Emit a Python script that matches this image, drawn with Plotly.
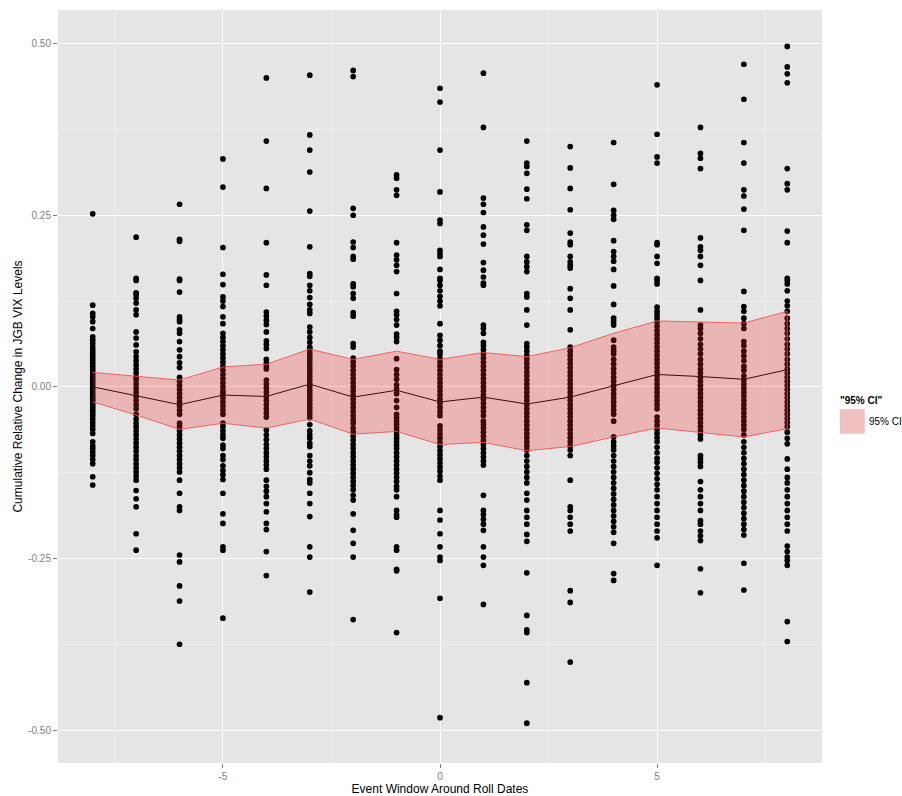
import plotly.graph_objects as go

window = [-8, -7, -6, -5, -4, -3, -2, -1, 0, 1, 2, 3, 4, 5, 6, 7, 8]

mean_change = [0.0, -0.013, -0.026, -0.012, -0.014, 0.004, -0.015, -0.005, -0.022,
               -0.015, -0.025, -0.015, 0.001, 0.018, 0.015, 0.011, 0.025]
ci_upper = [0.021, 0.015, 0.010, 0.029, 0.033, 0.055, 0.040, 0.052, 0.040,
            0.050, 0.044, 0.057, 0.078, 0.096, 0.095, 0.093, 0.110]
ci_lower = [-0.022, -0.041, -0.062, -0.053, -0.060, -0.047, -0.069, -0.065, -0.084,
            -0.081, -0.093, -0.087, -0.073, -0.060, -0.066, -0.073, -0.061]

obs_m8 = [0.252, 0.119, 0.107, 0.102, 0.095, 0.085, 0.073, 0.068, 0.063, 0.058, 0.054, 0.05, 0.046,
          0.042, 0.038, 0.034, 0.03, 0.026, 0.022, 0.018, 0.014, 0.01, 0.006, 0.002, -0.002, -0.006,
          -0.01, -0.014, -0.018, -0.022, -0.026, -0.03, -0.034, -0.038, -0.042, -0.047, -0.052, -0.057,
          -0.062, -0.068, -0.08, -0.086, -0.09, -0.095, -0.1, -0.106, -0.112, -0.131, -0.143]
obs_m7 = [0.218, 0.158, 0.155, 0.137, 0.134, 0.129, 0.122, 0.112, 0.105, 0.08, 0.071, 0.061, 0.051,
          0.044, 0.038, 0.032, 0.026, 0.02, 0.014, 0.01, 0.004, -0.002, -0.008, -0.014, -0.02, -0.026,
          -0.032, -0.04, -0.047, -0.053, -0.058, -0.064, -0.07, -0.076, -0.082, -0.088, -0.094, -0.1,
          -0.106, -0.112, -0.118, -0.124, -0.13, -0.136, -0.151, -0.163, -0.175, -0.214, -0.238]
obs_m6 = [0.266, 0.215, 0.212, 0.157, 0.155, 0.138, 0.102, 0.098, 0.095, 0.083, 0.078, 0.066, 0.054,
          0.044, 0.035, 0.028, 0.014, 0.008, 0.002, -0.004, -0.01, -0.016, -0.022, -0.028, -0.034,
          -0.04, -0.053, -0.058, -0.064, -0.07, -0.076, -0.082, -0.088, -0.094, -0.1, -0.106, -0.112,
          -0.118, -0.124, -0.136, -0.155, -0.175, -0.18, -0.245, -0.255, -0.29, -0.312, -0.375]
obs_m5 = [0.332, 0.291, 0.203, 0.164, 0.149, 0.131, 0.125, 0.117, 0.102, 0.092, 0.078, 0.072, 0.066,
          0.06, 0.054, 0.048, 0.042, 0.036, 0.03, 0.024, 0.018, 0.012, 0.006, 0.0, -0.006, -0.01,
          -0.016, -0.022, -0.028, -0.034, -0.04, -0.053, -0.058, -0.064, -0.07, -0.075, -0.085, -0.09,
          -0.1, -0.106, -0.115, -0.122, -0.128, -0.135, -0.155, -0.185, -0.199, -0.233, -0.238, -0.337]
obs_m4 = [0.45, 0.358, 0.289, 0.21, 0.163, 0.148, 0.109, 0.103, 0.097, 0.091, 0.08, 0.067, 0.062,
          0.056, 0.04, 0.035, 0.03, 0.026, 0.01, 0.004, -0.002, -0.008, -0.014, -0.02, -0.026, -0.032,
          -0.038, -0.044, -0.063, -0.07, -0.077, -0.084, -0.09, -0.096, -0.102, -0.108, -0.114, -0.12,
          -0.136, -0.145, -0.152, -0.16, -0.17, -0.182, -0.199, -0.208, -0.24, -0.275]
obs_m3 = [0.454, 0.367, 0.345, 0.313, 0.256, 0.204, 0.165, 0.161, 0.148, 0.14, 0.13, 0.12, 0.112,
          0.107, 0.087, 0.08, 0.072, 0.065, 0.058, 0.055, 0.05, 0.045, 0.04, 0.035, 0.03, 0.025, 0.02,
          0.015, 0.01, 0.005, 0.0, -0.005, -0.01, -0.015, -0.02, -0.025, -0.03, -0.035, -0.04, -0.045,
          -0.055, -0.064, -0.07, -0.075, -0.082, -0.087, -0.1, -0.108, -0.115, -0.125, -0.135, -0.14,
          -0.155, -0.17, -0.189, -0.233, -0.248, -0.299]
obs_m2 = [0.461, 0.452, 0.26, 0.25, 0.211, 0.203, 0.19, 0.186, 0.15, 0.146, 0.136, 0.129, 0.108,
          0.103, 0.063, 0.058, 0.042, 0.036, 0.03, 0.024, 0.018, 0.012, 0.006, 0.0, -0.006, -0.012,
          -0.018, -0.024, -0.03, -0.036, -0.042, -0.048, -0.053, -0.06, -0.066, -0.072, -0.078, -0.084,
          -0.09, -0.096, -0.102, -0.108, -0.114, -0.12, -0.126, -0.132, -0.138, -0.144, -0.15, -0.158,
          -0.165, -0.185, -0.209, -0.228, -0.248, -0.339]
obs_m1 = [0.309, 0.304, 0.287, 0.279, 0.21, 0.192, 0.185, 0.177, 0.168, 0.136, 0.11, 0.105, 0.098,
          0.09, 0.077, 0.072, 0.066, 0.041, 0.025, 0.018, 0.011, 0.003, -0.003, -0.01, -0.02, -0.03,
          -0.04, -0.045, -0.05, -0.055, -0.06, -0.065, -0.07, -0.075, -0.08, -0.085, -0.09, -0.096,
          -0.102, -0.108, -0.114, -0.12, -0.126, -0.132, -0.138, -0.145, -0.15, -0.16, -0.18, -0.186,
          -0.19, -0.233, -0.238, -0.266, -0.268, -0.358]
obs_0 = [0.435, 0.415, 0.345, 0.284, 0.243, 0.238, 0.199, 0.194, 0.19, 0.171, 0.158, 0.155, 0.148,
         0.14, 0.132, 0.125, 0.118, 0.092, 0.075, 0.068, 0.06, 0.052, 0.048, 0.042, 0.036, 0.03, 0.024,
         0.018, 0.012, 0.006, 0.0, -0.006, -0.012, -0.018, -0.024, -0.03, -0.036, -0.042, -0.057,
         -0.063, -0.069, -0.075, -0.081, -0.087, -0.093, -0.099, -0.105, -0.111, -0.117, -0.123,
         -0.13, -0.136, -0.18, -0.194, -0.214, -0.233, -0.248, -0.253, -0.308, -0.482]
obs_p1 = [0.457, 0.378, 0.275, 0.266, 0.254, 0.233, 0.221, 0.208, 0.181, 0.17, 0.16, 0.151, 0.148,
          0.09, 0.085, 0.078, 0.065, 0.06, 0.054, 0.048, 0.042, 0.036, 0.03, 0.024, 0.018, 0.012,
          0.006, 0.0, -0.006, -0.012, -0.018, -0.024, -0.03, -0.036, -0.042, -0.05, -0.055, -0.06,
          -0.066, -0.072, -0.078, -0.084, -0.09, -0.096, -0.102, -0.108, -0.114, -0.158, -0.18,
          -0.186, -0.193, -0.2, -0.209, -0.233, -0.248, -0.26, -0.317]
obs_p2 = [0.358, 0.326, 0.321, 0.311, 0.288, 0.274, 0.236, 0.228, 0.19, 0.182, 0.175, 0.168, 0.136,
          0.131, 0.112, 0.09, 0.063, 0.058, 0.052, 0.046, 0.04, 0.034, 0.028, 0.022, 0.016, 0.01,
          0.004, -0.002, -0.008, -0.014, -0.02, -0.026, -0.032, -0.038, -0.044, -0.05, -0.056, -0.062,
          -0.068, -0.074, -0.08, -0.086, -0.092, -0.1, -0.108, -0.116, -0.124, -0.132, -0.14, -0.155,
          -0.165, -0.18, -0.19, -0.2, -0.215, -0.225, -0.271, -0.333, -0.354, -0.358, -0.431, -0.49]
obs_p3 = [0.35, 0.319, 0.289, 0.258, 0.224, 0.211, 0.207, 0.19, 0.182, 0.177, 0.173, 0.143, 0.129,
          0.112, 0.083, 0.058, 0.052, 0.046, 0.04, 0.034, 0.028, 0.022, 0.016, 0.01, 0.004, -0.002,
          -0.008, -0.014, -0.02, -0.026, -0.032, -0.038, -0.044, -0.05, -0.056, -0.062, -0.068,
          -0.074, -0.08, -0.086, -0.092, -0.1, -0.136, -0.175, -0.18, -0.19, -0.2, -0.21, -0.297,
          -0.314, -0.401]
obs_p4 = [0.356, 0.295, 0.257, 0.25, 0.244, 0.213, 0.197, 0.19, 0.183, 0.171, 0.147, 0.12, 0.1,
          0.095, 0.09, 0.068, 0.058, 0.053, 0.048, 0.04, 0.033, 0.026, 0.02, 0.014, 0.008, 0.002,
          -0.004, -0.01, -0.016, -0.022, -0.028, -0.034, -0.04, -0.05, -0.073, -0.08, -0.086, -0.092,
          -0.1, -0.108, -0.116, -0.124, -0.132, -0.14, -0.148, -0.156, -0.164, -0.172, -0.18, -0.188,
          -0.196, -0.204, -0.212, -0.228, -0.272, -0.282]
obs_p5 = [0.44, 0.368, 0.335, 0.326, 0.21, 0.207, 0.19, 0.18, 0.158, 0.155, 0.15, 0.116, 0.11,
          0.105, 0.1, 0.094, 0.088, 0.082, 0.076, 0.07, 0.064, 0.058, 0.052, 0.046, 0.04, 0.034, 0.028,
          0.022, 0.016, 0.01, 0.004, -0.002, -0.008, -0.014, -0.02, -0.026, -0.032, -0.044, -0.05,
          -0.056, -0.062, -0.068, -0.074, -0.08, -0.088, -0.096, -0.104, -0.11, -0.118, -0.126,
          -0.134, -0.142, -0.15, -0.16, -0.17, -0.18, -0.19, -0.2, -0.21, -0.22, -0.26]
obs_p6 = [0.378, 0.34, 0.333, 0.318, 0.217, 0.204, 0.199, 0.19, 0.177, 0.155, 0.112, 0.09, 0.085,
          0.078, 0.07, 0.062, 0.055, 0.048, 0.04, 0.033, 0.026, 0.02, 0.014, 0.008, 0.002, -0.004,
          -0.01, -0.016, -0.022, -0.028, -0.034, -0.04, -0.046, -0.052, -0.058, -0.064, -0.07, -0.076,
          -0.1, -0.105, -0.11, -0.116, -0.138, -0.15, -0.16, -0.17, -0.18, -0.195, -0.2, -0.21,
          -0.217, -0.224, -0.265, -0.3]
obs_p7 = [0.47, 0.419, 0.356, 0.326, 0.287, 0.278, 0.259, 0.228, 0.139, 0.117, 0.11, 0.1, 0.092,
          0.085, 0.066, 0.06, 0.052, 0.045, 0.038, 0.03, 0.024, 0.016, 0.01, 0.004, -0.002, -0.008,
          -0.014, -0.02, -0.026, -0.032, -0.038, -0.044, -0.05, -0.056, -0.062, -0.07, -0.08, -0.088,
          -0.096, -0.104, -0.112, -0.12, -0.128, -0.136, -0.144, -0.152, -0.16, -0.168, -0.176,
          -0.184, -0.192, -0.2, -0.208, -0.216, -0.257, -0.296]
obs_p8 = [0.496, 0.466, 0.456, 0.443, 0.318, 0.296, 0.287, 0.227, 0.21, 0.158, 0.155, 0.15, 0.14,
          0.125, 0.118, 0.11, 0.1, 0.092, 0.085, 0.078, 0.07, 0.062, 0.055, 0.048, 0.04, 0.033, 0.026,
          0.02, 0.014, 0.008, 0.002, -0.004, -0.01, -0.016, -0.022, -0.028, -0.034, -0.04, -0.046,
          -0.052, -0.058, -0.066, -0.075, -0.083, -0.105, -0.12, -0.132, -0.14, -0.15, -0.16, -0.17,
          -0.18, -0.19, -0.2, -0.21, -0.232, -0.24, -0.248, -0.253, -0.26, -0.342, -0.371]

observations = [obs_m8, obs_m7, obs_m6, obs_m5, obs_m4, obs_m3, obs_m2, obs_m1, obs_0,
                obs_p1, obs_p2, obs_p3, obs_p4, obs_p5, obs_p6, obs_p7, obs_p8]

x_ticks = [-5, 0, 5]
y_ticks = [-0.5, -0.25, 0.0, 0.25, 0.5]
legend_title = '"95% CI"'
legend_label = "95% CI"

RIBBON_FILL = "rgba(248,40,40,0.25)"
RIBBON_LINE = "rgba(245,80,80,0.85)"
KEY_FILL = "rgb(241,193,194)"

pts_x, pts_y = [], []
for w, vals in zip(window, observations):
    pts_x.extend([w] * len(vals))
    pts_y.extend(vals)

fig = go.Figure()
fig.add_trace(go.Scatter(x=pts_x, y=pts_y, mode="markers",
                         marker=dict(color="black", size=5.7), showlegend=False,
                         hoverinfo="skip"))
fig.add_trace(go.Scatter(x=window, y=mean_change, mode="lines",
                         line=dict(color="black", width=1), showlegend=False))
fig.add_trace(go.Scatter(x=window + window[::-1], y=ci_upper + ci_lower[::-1],
                         mode="lines", fill="toself", fillcolor=RIBBON_FILL,
                         line=dict(color=RIBBON_LINE, width=1),
                         name=legend_label, showlegend=False))

axis_common = dict(showline=False, zeroline=False, ticks="outside", ticklen=4,
                   tickcolor="#7F7F7F", tickfont=dict(color="#7F7F7F", size=10),
                   gridcolor="#FFFFFF", gridwidth=1.1, automargin=False)

# paper layout: margins l=58, r=10, t=10, b=33 -> paper width 834, height 753
PW, PH, ML, MB_TOP = 834.0, 753.0, 58.0, 763.0
def px(xp):
    return (xp - ML) / PW
def py(yp):
    return (MB_TOP - yp) / PH

fig.update_layout(
    width=902, height=796,
    margin=dict(l=58, r=10, t=10, b=33),
    paper_bgcolor="white", plot_bgcolor="#E5E5E5",
    font=dict(family="Liberation Sans, Arial, sans-serif", color="black"),
    showlegend=False,
    xaxis=dict(domain=[0, px(822)], range=[-8.8, 8.8], tickvals=x_ticks,
               ticktext=[str(v) for v in x_ticks],
               title=dict(text="Event Window Around Roll Dates", font=dict(size=12), standoff=6),
               minor=dict(tickvals=[-7.5, -2.5, 2.5, 7.5], showgrid=True,
                          gridcolor="#EFEFEF", gridwidth=0.5, ticks=""),
               **axis_common),
    yaxis=dict(range=[-0.548, 0.549], tickvals=y_ticks,
               ticktext=["%.2f" % v for v in y_ticks],
               title=dict(text="Cumulative Relative Change in JGB VIX Levels",
                          font=dict(size=12), standoff=3),
               minor=dict(tickvals=[-0.375, -0.125, 0.125, 0.375], showgrid=True,
                          gridcolor="#EFEFEF", gridwidth=0.5, ticks=""),
               **axis_common),
    shapes=[dict(type="rect", xref="paper", yref="paper",
                 x0=px(840), x1=px(864.5), y0=py(433.5), y1=py(409.5),
                 fillcolor=KEY_FILL, line=dict(color="rgba(245,80,80,0.12)", width=1))],
    annotations=[
        dict(text="<b>%s</b>" % legend_title, xref="paper", yref="paper",
             x=px(838), y=py(400), xanchor="left", yanchor="middle", showarrow=False,
             font=dict(size=10, color="black")),
        dict(text=legend_label, xref="paper", yref="paper",
             x=px(867), y=py(422), xanchor="left", yanchor="middle", showarrow=False,
             font=dict(size=10, color="black")),
    ],
)

fig.write_html("out.html", config={"displayModeBar": False},
               post_script="document.body.style.margin='0';document.body.style.overflow='hidden';")
